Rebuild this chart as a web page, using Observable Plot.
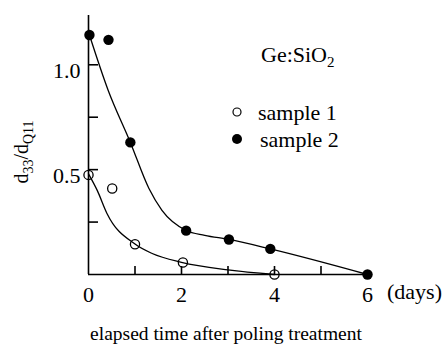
<!DOCTYPE html>
<html>
<head>
<meta charset="utf-8">
<script src="https://cdn.jsdelivr.net/npm/d3@7"></script>
<script src="https://cdn.jsdelivr.net/npm/@observablehq/plot@0.6"></script>
<style>
  html, body { margin: 0; padding: 0; background: #fff; }
  #chart svg { display: block; }
</style>
</head>
<body>
<div id="chart"></div>
<script>
// ---- data ----
const days1 = [0, 0.51, 1.0, 2.03, 4.0];
const ratio1 = [0.475, 0.41, 0.144, 0.057, 0.0];
const days2 = [0.02, 0.43, 0.9, 2.1, 3.02, 3.91, 6.0];
const ratio2 = [1.142, 1.119, 0.63, 0.209, 0.167, 0.122, 0.0];

// fitted (hand-drawn) curves
const fit1Days = [0, 0.19, 0.4, 1.0, 1.37, 2.0, 3.0, 4.0];
const fit1 = [0.48, 0.40, 0.29, 0.145, 0.10, 0.058, 0.022, 0.0];
const fit2Days = [0.02, 0.42, 0.9, 1.3, 1.58, 2.1, 2.5, 3.02, 3.91, 6.0];
const fit2 = [1.142, 0.88, 0.63, 0.41, 0.306, 0.21, 0.187, 0.167, 0.122, 0.0];

const xTickMarks = [1, 2, 3, 4, 5];
const xTickLabels = [0, 2, 4, 6];
const yTickMarks = [0.25, 0.5, 0.75, 1.0];
const yTickLabels = [0.5, 1.0];

const legendTitle = ["Ge:SiO", "2"];
const seriesNames = ["sample 1", "sample 2"];
const xTitle = "elapsed time after poling treatment";
const xUnit = "(days)";

const s1 = days1.map((d, i) => ({x: d, y: ratio1[i]}));
const s2 = days2.map((d, i) => ({x: d, y: ratio2[i]}));
const f1 = fit1Days.map((d, i) => ({x: d, y: fit1[i]}));
const f2 = fit2Days.map((d, i) => ({x: d, y: fit2[i]}));

const FONT = '"Liberation Serif", "Times New Roman", Times, serif';

const W = 445, H = 347, ML = 88, MR = 78, MT = 15, MB = 73;
const plotW = W - ML - MR, plotH = H - MT - MB;
const xTickLen = 8, yTickLen = 10;

const chart = Plot.plot({
  width: W,
  height: H,
  marginLeft: ML,
  marginRight: MR,
  marginTop: MT,
  marginBottom: MB,
  style: {fontFamily: FONT, fontSize: "22px", color: "#000", background: "#fff", overflow: "visible"},
  x: {domain: [0, 6], label: null},
  y: {domain: [0, 1.235], label: null},
  marks: [
    // inward tick marks: frame-spanning ticks trimmed by insets to a short stub at the axis
    Plot.tickX(xTickMarks, {x: d => d, insetTop: plotH - xTickLen, stroke: "#000", strokeWidth: 1.6}),
    Plot.tickY(yTickMarks, {y: d => d, insetRight: plotW - yTickLen, stroke: "#000", strokeWidth: 1.6}),
    Plot.axisX({ticks: xTickLabels, tickSize: 0, tickPadding: 12, fontSize: 22, label: null, tickFormat: d => String(d)}),
    Plot.axisY({ticks: yTickLabels, tickSize: 0, tickPadding: 8, dy: 6, fontSize: 22, label: null, tickFormat: d => d.toFixed(1)}),
    Plot.ruleY([0], {strokeWidth: 1.6}),
    Plot.ruleX([0], {strokeWidth: 1.6}),
    Plot.line(f1, {x: "x", y: "y", curve: "monotone-x", strokeWidth: 1.3}),
    Plot.line(f2, {x: "x", y: "y", curve: "monotone-x", strokeWidth: 1.3}),
    Plot.dot(s1, {x: "x", y: "y", r: 4.6, stroke: "#000", fill: "none", strokeWidth: 1.3}),
    Plot.dot(s2, {x: "x", y: "y", r: 5.2, fill: "#000", stroke: "none"})
  ]
});

document.getElementById("chart").appendChild(chart);

const svg = d3.select(chart);
const g = svg.append("g").attr("font-family", FONT).attr("fill", "#000").attr("text-anchor", "start");

// y-axis title d33/dQ11 (rotated, with subscripts)
const yt = g.append("text")
  .attr("transform", "translate(28,152) rotate(-90)")
  .attr("text-anchor", "middle")
  .attr("font-size", 20);
yt.append("tspan").text("d");
yt.append("tspan").attr("font-size", 14).attr("dy", 5).text("33");
yt.append("tspan").attr("dy", -5).text("/d");
yt.append("tspan").attr("font-size", 14).attr("dy", 5).text("Q11");

// legend title Ge:SiO2
const lt = g.append("text").attr("x", 261).attr("y", 62).attr("font-size", 22);
lt.append("tspan").text(legendTitle[0]);
lt.append("tspan").attr("font-size", 15).attr("dy", 5).text(legendTitle[1]);

// legend entries
g.append("circle").attr("cx", 237).attr("cy", 112).attr("r", 4).attr("fill", "none").attr("stroke", "#000").attr("stroke-width", 1.2);
g.append("text").attr("x", 258).attr("y", 120).attr("font-size", 22).text(seriesNames[0]);
g.append("circle").attr("cx", 237).attr("cy", 139).attr("r", 5).attr("fill", "#000");
g.append("text").attr("x", 260).attr("y", 147).attr("font-size", 22).text(seriesNames[1]);

// x unit and title
g.append("text").attr("x", 387).attr("y", 299).attr("font-size", 22).text(xUnit);
g.append("text").attr("x", 226).attr("y", 340).attr("text-anchor", "middle").attr("font-size", 19.5).text(xTitle);
</script>
</body>
</html>
